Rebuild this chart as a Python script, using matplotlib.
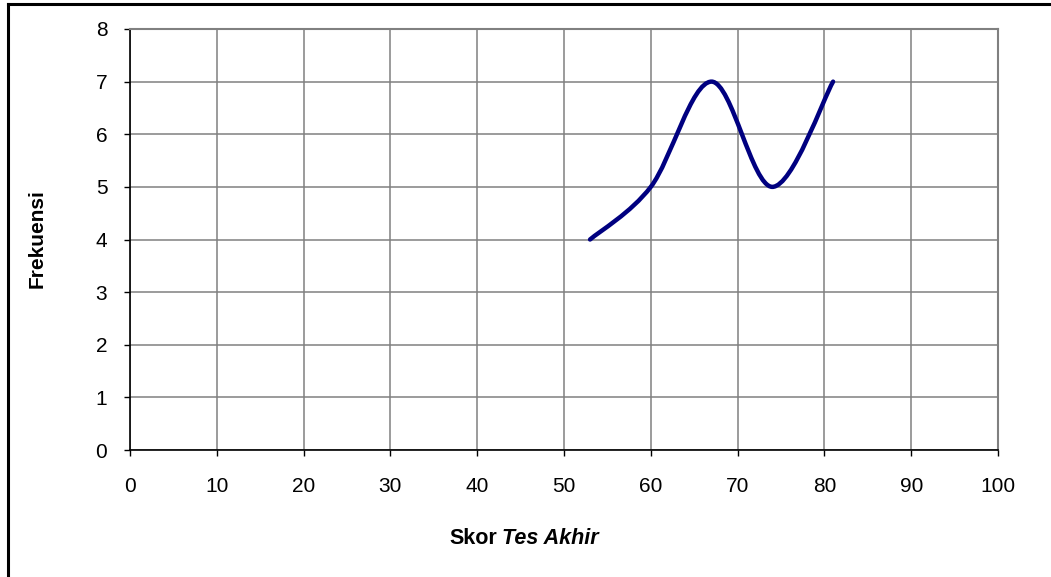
import matplotlib
matplotlib.use("Agg")
import matplotlib.pyplot as plt
from matplotlib.path import Path
from matplotlib.patches import PathPatch

# data
skor = [53, 60, 67, 74, 81]
frekuensi = [4, 5, 7, 5, 7]
x_ticks = [0, 10, 20, 30, 40, 50, 60, 70, 80, 90, 100]
y_ticks = [0, 1, 2, 3, 4, 5, 6, 7, 8]

plt.rcParams['font.family'] = ['Liberation Sans', 'DejaVu Sans']

fig = plt.figure(figsize=(10.51, 5.77), dpi=100)
ax = fig.add_axes([130 / 1051, 127 / 577, 868 / 1051, 421 / 577])

# smoothed line (Catmull-Rom style bezier, like Excel's smoothed line)
pts = list(zip(skor, frekuensi))
verts = [pts[0]]
codes = [Path.MOVETO]
for i in range(len(pts) - 1):
    p0 = pts[i - 1] if i > 0 else pts[i]
    p1 = pts[i]
    p2 = pts[i + 1]
    p3 = pts[i + 2] if i + 2 < len(pts) else pts[i + 1]
    c1 = (p1[0] + (p2[0] - p0[0]) / 6, p1[1] + (p2[1] - p0[1]) / 6)
    c2 = (p2[0] - (p3[0] - p1[0]) / 6, p2[1] - (p3[1] - p1[1]) / 6)
    verts += [c1, c2, p2]
    codes += [Path.CURVE4] * 3
ax.add_patch(PathPatch(Path(verts, codes), facecolor='none', edgecolor='#000080',
                       lw=3.2, capstyle='round', zorder=3))

ax.set_xlim(0, 100)
ax.set_ylim(0, 8)
ax.set_xticks(x_ticks)
ax.set_yticks(y_ticks)
ax.grid(True, color='#808080', lw=1.1)
ax.set_axisbelow(True)
ax.tick_params(direction='out', length=4.3, width=1, labelsize=15, color='black')
ax.tick_params(axis='y', pad=12)
ax.tick_params(axis='x', pad=15.5)
for s in ['top', 'right']:
    ax.spines[s].set_color('#808080')
    ax.spines[s].set_linewidth(1.5)
for s in ['left', 'bottom']:
    ax.spines[s].set_color('black')
    ax.spines[s].set_linewidth(1.2)

fig.text(37 / 1051, 1 - 239 / 577, 'Frekuensi', rotation=90, ha='center', va='center',
         fontsize=15, fontweight='bold')
fig.text(497 / 1051, 1 - 539 / 577, 'Skor', ha='right', va='center',
         fontsize=15.5, fontweight='bold')
fig.text(502 / 1051, 1 - 539 / 577, 'Tes Akhir', ha='left', va='center',
         fontsize=15.5, fontweight='bold', style='italic')

# chart frame (only top and left edges visible)
fig.add_artist(plt.Line2D([8 / 1051, 8 / 1051], [0, 1 - 4 / 577], color='black', lw=2.2))
fig.add_artist(plt.Line2D([8 / 1051, 1], [1 - 4 / 577, 1 - 4 / 577], color='black', lw=2.2))

fig.savefig('out.png', dpi=100)
